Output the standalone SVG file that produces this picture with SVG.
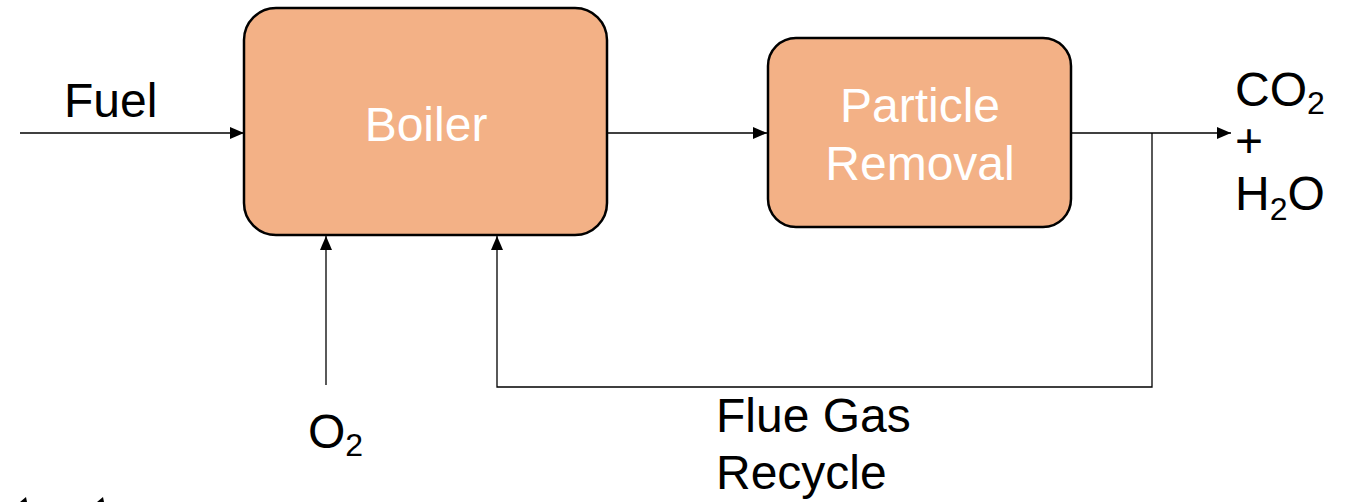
<svg xmlns="http://www.w3.org/2000/svg" width="1355" height="502" viewBox="0 0 1355 502">
<style>
.box{fill:#F3B186;stroke:#000;stroke-width:2.5}
.in{font-family:"Liberation Sans",Arial,sans-serif;font-size:48px;fill:#fff;text-anchor:middle}
.lbl{font-family:"Liberation Sans",Arial,sans-serif;font-size:48px;fill:#000}
.sub{font-size:32px}
.ln{fill:none;stroke:#000;stroke-width:1.3}
</style>
<defs>
<marker id="ah" markerWidth="14" markerHeight="12" refX="14" refY="6" orient="auto" markerUnits="userSpaceOnUse">
<path d="M0,0 L14,6 L0,12 Z" fill="#000"/>
</marker>
</defs>
<rect width="1355" height="502" fill="#fff"/>
<g id="connectors">
<line class="ln" x1="20" y1="133" x2="244" y2="133" marker-end="url(#ah)"/>
<line class="ln" x1="607" y1="133" x2="767" y2="133" marker-end="url(#ah)"/>
<line class="ln" x1="1071" y1="133" x2="1231" y2="133" marker-end="url(#ah)"/>
<polyline class="ln" points="1152,133 1152,387 497,387 497,236" marker-end="url(#ah)"/>
<line class="ln" x1="326" y1="385" x2="326" y2="236" marker-end="url(#ah)"/>
<path d="M20,502 L26,497 L27,502 Z M97,502 L103,497 L104,502 Z" fill="#000"/>
</g>
<g id="boiler">
<rect class="box" x="244" y="8" width="363" height="227" rx="32" ry="32"/>
<text class="in" x="426" y="141">Boiler</text>
</g>
<g id="particle-removal">
<rect class="box" x="768" y="38" width="303" height="189" rx="28" ry="28"/>
<text class="in" x="920" y="122">Particle</text>
<text class="in" x="920" y="180">Removal</text>
</g>
<g id="labels">
<text class="lbl" x="64" y="117">Fuel</text>
<text class="lbl" x="1235" y="106">CO<tspan class="sub" dy="8">2</tspan></text>
<text class="lbl" x="1235" y="157">+</text>
<text class="lbl" x="1235" y="210">H<tspan class="sub" dy="10">2</tspan><tspan dy="-10">O</tspan></text>
<text class="lbl" x="308" y="448">O<tspan class="sub" dy="8">2</tspan></text>
<text class="lbl" x="716" y="432">Flue Gas</text>
<text class="lbl" x="716" y="489">Recycle</text>
</g>
</svg>
